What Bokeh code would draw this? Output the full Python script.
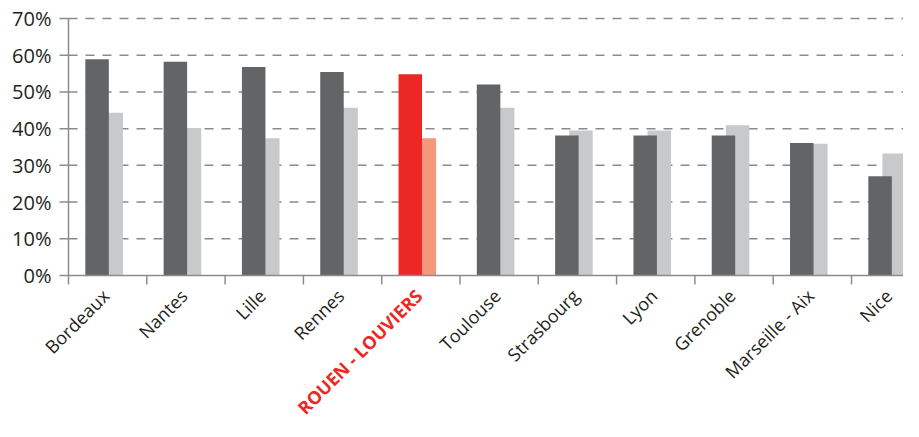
import math
from bokeh.plotting import figure
from bokeh.models import ColumnDataSource, Range1d
from bokeh.core.properties import value
from bokeh.embed import file_html
from bokeh.resources import INLINE

# ---- data ----
cities = ["Bordeaux", "Nantes", "Lille", "Rennes", "ROUEN - LOUVIERS", "Toulouse",
          "Strasbourg", "Lyon", "Grenoble", "Marseille - Aix", "Nice"]
series_a = [0.589, 0.582, 0.568, 0.554, 0.548, 0.520, 0.381, 0.381, 0.381, 0.361, 0.270]
series_b = [0.443, 0.402, 0.374, 0.457, 0.374, 0.457, 0.395, 0.395, 0.409, 0.359, 0.332]
y_ticks = [0.0, 0.1, 0.2, 0.3, 0.4, 0.5, 0.6, 0.7]
y_tick_labels = ["0%", "10%", "20%", "30%", "40%", "50%", "60%", "70%"]
highlight = "ROUEN - LOUVIERS"

# ---- styles ----
DARK, LIGHT = "#636466", "#c8c9cb"
RED, SALMON = "#ed2724", "#f5977a"
TEXT = "#231f20"
AXIS = "#8c8c8e"
GRID = "#8a8a8a"
FONT = "Open Sans"

# ---- layout (pixels) ----
W, H = 903, 421
LEFT, TOP, ZERO = 68, 18, 275        # y-axis x, top of value range, baseline y
CAT_PX = 78.3                         # pixels per category
ymax = y_ticks[-1]
ppu = (ZERO - TOP) / ymax             # pixels per unit on y

n = len(cities)
centers = [i + 0.5 for i in range(n)]
bounds = list(range(n + 1))
is_hl = [c == highlight for c in cities]
x_end = (W - LEFT) / CAT_PX

src = ColumnDataSource(dict(
    x_a=[c - 0.135 for c in centers],
    x_b=[c + 0.045 for c in centers],
    a=series_a, b=series_b,
    col_a=[RED if h else DARK for h in is_hl],
    col_b=[SALMON if h else LIGHT for h in is_hl],
))
lab = ColumnDataSource(dict(
    x=centers, y=[0] * n, text=cities,
    color=[RED if h else TEXT for h in is_hl],
    style=["bold" if h else "normal" for h in is_hl],
))

# the frame covers the whole canvas so that rotated labels are not clipped
p = figure(width=W, height=H, output_backend="svg", toolbar_location=None,
           x_range=Range1d(-LEFT / CAT_PX, x_end),
           y_range=Range1d(-(H - ZERO) / ppu, ymax + TOP / ppu),
           min_border=0)
p.outline_line_color = None
p.background_fill_color = "white"
p.border_fill_color = "white"
p.axis.visible = False
p.grid.visible = False

# dashed grid lines (not on the baseline)
gy = y_ticks[1:]
p.segment(x0=[0] * len(gy), y0=gy, x1=[x_end] * len(gy), y1=gy,
          line_color=GRID, line_width=1.5, line_dash="9 8")

# bars
p.vbar(x="x_b", top="b", width=0.3, source=src, fill_color="col_b", line_color=None)
p.vbar(x="x_a", top="a", width=0.3, source=src, fill_color="col_a", line_color=None)

# y axis: line, outward ticks, labels
p.segment(x0=[0], y0=[y_ticks[0]], x1=[0], y1=[ymax], line_color=AXIS, line_width=1.5)
p.ray(x=[0] * len(y_ticks), y=y_ticks, length=9, length_units="screen",
      angle=math.pi, line_color=AXIS, line_width=1.5)
p.text(x=[0] * len(y_ticks), y=y_ticks, text=y_tick_labels, x_offset=-17,
       text_align="right", text_baseline="middle",
       text_font=value(FONT), text_font_size=value("20px"), text_color=TEXT)

# x axis: baseline, ticks at category boundaries
p.segment(x0=[0], y0=[0], x1=[x_end], y1=[0], line_color=AXIS, line_width=1.5)
p.ray(x=bounds, y=[0] * len(bounds), length=9, length_units="screen",
      angle=-math.pi / 2, line_color=AXIS, line_width=1.5)

# category labels, rotated 45 degrees
p.text(x="x", y="y", text="text", source=lab, angle=math.pi / 4,
       text_align="right", text_baseline="middle", x_offset=-2, y_offset=17,
       text_font=value(FONT), text_font_size=value("18px"),
       text_color="color", text_font_style="style")

open("out.html", "w").write(file_html(p, INLINE))
